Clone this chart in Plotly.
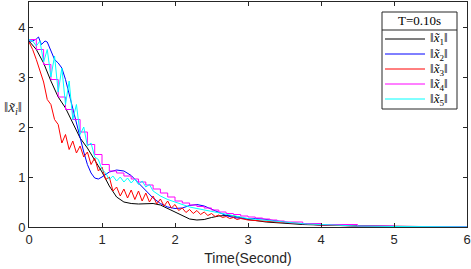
import plotly.graph_objects as go

# ---- data ----
t_x1 = [0.0,0.1,0.2,0.3,0.4,0.5,0.6,0.7,0.8,0.9,1.0,1.1,1.2,1.3,1.4,1.5,1.6,1.7,1.8,1.9,
        2.0,2.1,2.2,2.3,2.4,2.5,2.6,2.7,2.8,2.9,3.0,3.25,3.5,3.75,4.0,4.5,5.0,5.5,6.0]
x1 = [3.72,3.55,3.28,2.92,2.60,2.38,2.08,1.78,1.58,1.33,1.10,0.82,0.60,0.50,0.47,0.46,0.47,0.47,0.44,0.37,
      0.30,0.22,0.16,0.14,0.15,0.19,0.22,0.23,0.22,0.19,0.15,0.10,0.07,0.05,0.04,0.02,0.01,0.005,0.003]

t_x2 = [0.0,0.05,0.1,0.13,0.17,0.22,0.25,0.3,0.35,0.4,0.45,0.5,0.55,0.6,0.65,0.7,0.75,0.8,0.85,0.9,0.95,
        1.0,1.1,1.2,1.3,1.4,1.5,1.6,1.7,1.8,1.9,2.0,2.1,2.2,2.3,2.4,2.5,2.6,2.7,2.8,2.9,3.0,3.1,3.2,
        3.4,3.6,3.8,4.0,4.5,5.0,6.0]
x2 = [3.72,3.72,3.76,3.80,3.65,3.72,3.70,3.52,3.35,3.28,3.18,2.95,2.65,2.40,2.10,1.78,1.50,1.25,1.08,0.98,0.96,
      1.00,1.10,1.14,1.12,1.03,0.88,0.72,0.58,0.47,0.40,0.37,0.38,0.43,0.45,0.42,0.36,0.29,0.23,0.19,0.17,0.16,0.17,0.16,
      0.12,0.08,0.06,0.04,0.02,0.01,0.002]

t_x3 = [0.0,0.05,0.1,0.15,0.2,0.25,0.3,0.35,0.4,0.45,0.5,0.55,0.6,0.65,0.7,0.75,0.8,0.85,0.9,0.95,
        1.0,1.05,1.1,1.15,1.2,1.25,1.3,1.35,1.4,1.45,1.5,1.55,1.6,1.65,1.7,1.75,1.8,1.85,1.9,1.95,
        2.0,2.05,2.1,2.15,2.2,2.25,2.3,2.35,2.4,2.45,2.5,2.55,2.6,2.65,2.7,2.75,2.8,2.85,2.9,
        3.0,3.1,3.2,3.3,3.4,3.5,3.75,4.0,4.5,5.0,6.0]
x3 = [3.70,3.55,3.35,3.10,2.90,2.55,2.45,2.15,2.05,1.68,1.85,1.55,1.72,1.48,1.62,1.40,1.50,1.25,1.38,1.12,
      1.20,0.95,1.00,0.72,0.80,0.62,0.76,0.58,0.74,0.55,0.72,0.52,0.68,0.50,0.62,0.46,0.56,0.42,0.52,0.38,
      0.45,0.33,0.38,0.29,0.35,0.27,0.33,0.25,0.30,0.23,0.27,0.21,0.24,0.19,0.21,0.17,0.19,0.15,0.17,
      0.14,0.13,0.12,0.10,0.09,0.08,0.06,0.04,0.02,0.01,0.003]

t_x4 = [0.0,0.1,0.2,0.3,0.4,0.5,0.6,0.7,0.8,0.9,1.0,1.1,1.2,1.3,1.4,1.5,1.6,1.7,1.8,1.9,
        2.0,2.1,2.2,2.3,2.4,2.5,2.6,2.7,2.8,2.9,3.0,3.1,3.2,3.3,3.4,3.5,3.75,4.0,4.5,5.0,6.0]
x4 = [3.75,3.55,3.25,2.95,2.60,2.35,2.15,1.90,1.65,1.45,1.25,1.12,1.08,1.02,0.96,0.90,0.84,0.76,0.68,0.60,
      0.52,0.48,0.44,0.41,0.38,0.34,0.30,0.27,0.25,0.22,0.20,0.18,0.16,0.14,0.12,0.10,0.07,0.05,0.02,0.01,0.003]

t_x5 = [0.0,0.05,0.1,0.15,0.2,0.25,0.3,0.35,0.4,0.45,0.5,0.55,0.6,0.65,0.7,0.75,0.8,0.85,0.9,0.95,
        1.0,1.05,1.1,1.15,1.2,1.25,1.3,1.35,1.4,1.45,1.5,1.55,1.6,1.65,1.7,1.8,1.9,
        2.0,2.1,2.2,2.3,2.4,2.5,2.6,2.7,2.8,2.9,3.0,3.2,3.4,3.6,3.8,4.0,4.5,5.0,6.0]
x5 = [3.75,3.72,3.62,3.72,3.30,3.55,3.00,3.42,2.70,3.18,2.45,2.92,2.15,2.45,1.85,2.00,1.62,1.68,1.40,1.35,
      1.15,1.08,0.95,1.02,0.92,1.00,0.90,0.98,0.88,0.96,0.85,0.92,0.80,0.85,0.72,0.62,0.55,
      0.50,0.45,0.40,0.37,0.34,0.31,0.28,0.25,0.22,0.19,0.17,0.14,0.11,0.08,0.06,0.05,0.02,0.01,0.003]

names = ["‖<i>x̃</i><sub>1</sub>‖", "‖<i>x̃</i><sub>2</sub>‖", "‖<i>x̃</i><sub>3</sub>‖",
         "‖<i>x̃</i><sub>4</sub>‖", "‖<i>x̃</i><sub>5</sub>‖"]
colors = ["#000000", "#0000ff", "#ff0000", "#ff00ff", "#00ffff"]
legend_title = "T=0.10s"
x_ticks = [0, 1, 2, 3, 4, 5, 6]
y_ticks = [0, 1, 2, 3, 4]

series = [(t_x1, x1, "linear"), (t_x2, x2, "linear"), (t_x3, x3, "linear"),
          (t_x4, x4, "hv"), (t_x5, x5, "linear")]

# plot-area geometry in pixels (layout only)
L, R, T, B = 29, 467, 2, 227
def px(xp):
    return (xp - L) / (R - L)
def py(yp):
    return (B - yp) / (B - T)

fig = go.Figure()
for (tt, vv, shp), nm, c in zip(series, names, colors):
    fig.add_trace(go.Scatter(x=tt, y=vv, mode="lines", name=nm, showlegend=False,
                             line=dict(color=c, width=1, shape=shp)))

axis_common = dict(showline=True, linecolor="#262626", linewidth=1, mirror="allticks",
                   ticks="inside", ticklen=4, tickcolor="#262626", showgrid=False,
                   zeroline=False, automargin=False,
                   tickfont=dict(family="Liberation Sans, Arial", size=13, color="#262626"))

fig.update_layout(
    width=471, height=269,
    margin=dict(l=L, r=471 - R, t=T, b=269 - B),
    plot_bgcolor="white", paper_bgcolor="white",
    xaxis=dict(range=[0, 6], tickvals=x_ticks, **axis_common,
               title=dict(text="Time(Second)", standoff=7,
                          font=dict(family="Liberation Sans, Arial", size=14, color="#262626"))),
    yaxis=dict(range=[0, 4.5], tickvals=y_ticks, **axis_common),
    showlegend=False,
)

serif = "Liberation Serif, DejaVu Serif"
# y-axis label
fig.add_annotation(text="‖<i>x̃<sub>i</sub></i>‖", xref="paper", yref="paper",
                   x=px(13), xanchor="center", y=py(108), yanchor="middle",
                   showarrow=False, font=dict(family=serif, size=15, color="#262626"))

# legend box (drawn by hand to match the reference's compact layout)
fig.add_shape(type="rect", xref="paper", yref="paper",
              x0=px(382), x1=px(457), y0=py(12), y1=py(109),
              line=dict(color="#262626", width=1), fillcolor="white", layer="above")
fig.add_shape(type="line", xref="paper", yref="paper",
              x0=px(382), x1=px(457), y0=py(30), y1=py(30),
              line=dict(color="#262626", width=1), layer="above")
fig.add_annotation(text=legend_title, xref="paper", yref="paper",
                   x=px(419.5), y=py(21), xanchor="center", yanchor="middle",
                   showarrow=False, font=dict(family=serif, size=13, color="#000000"))
item_y = [39, 54, 69, 84, 99]
for nm, c, yy in zip(names, colors, item_y):
    fig.add_shape(type="line", xref="paper", yref="paper",
                  x0=px(385), x1=px(425), y0=py(yy), y1=py(yy),
                  line=dict(color=c, width=1), layer="above")
    fig.add_annotation(text=nm, xref="paper", yref="paper",
                       x=px(428), y=py(yy), xanchor="left", yanchor="middle",
                       showarrow=False, font=dict(family=serif, size=13, color="#000000"))

fig.write_html("out.html", config={"displayModeBar": False},
               post_script="document.body.style.margin='0';document.body.style.overflow='hidden';")
